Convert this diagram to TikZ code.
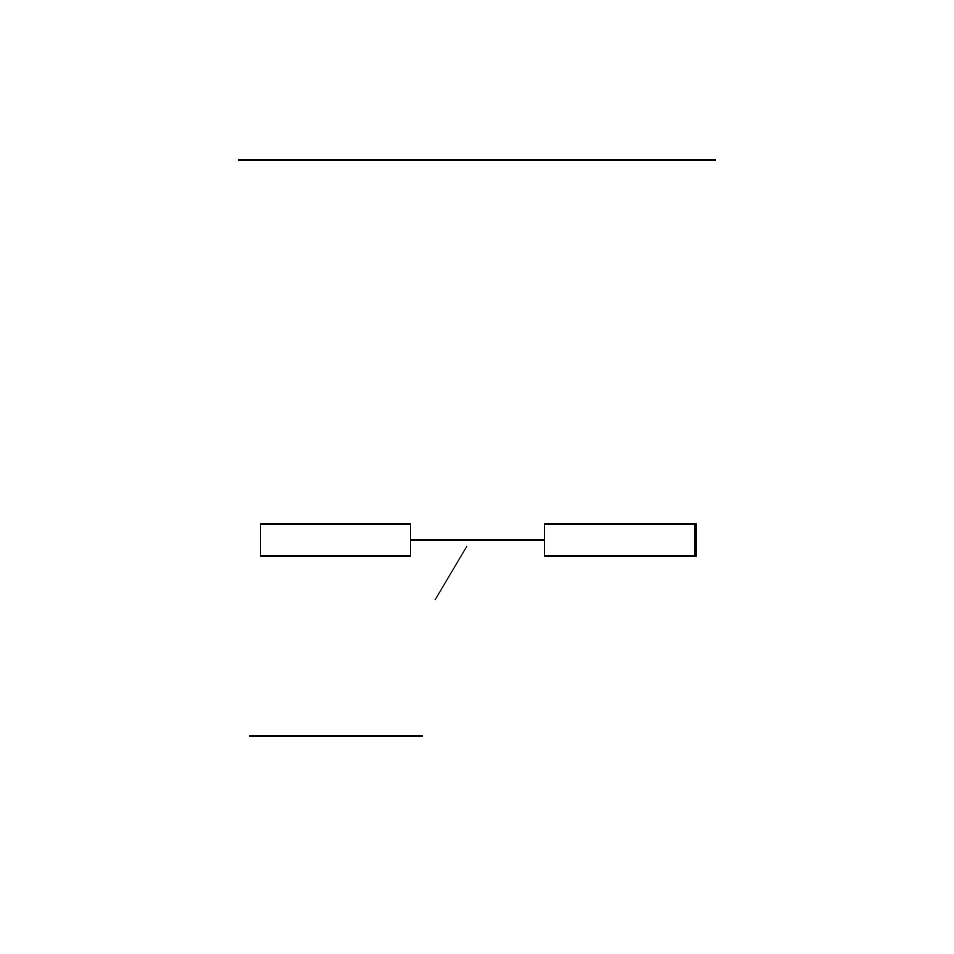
\documentclass[tikz,border=0pt]{standalone}
\usetikzlibrary{calc}

\begin{document}
\begin{tikzpicture}[x=0.01cm,y=-0.01cm,line width=0.4pt,
  box/.style={draw,rectangle,minimum width=1.5cm,minimum height=0.32cm,inner sep=0pt}]

  \useasboundingbox (0, 0) rectangle (954, 954);

  \coordinate (topl) at (238, 160);
  \coordinate (topr) at (716, 160);
  \draw (topl) -- (topr);

  \node [box] (left) at (335.25, 540) {};
  \node [box] (right) at (619.5, 540) {};
  \draw (left.east) -- (right.east -| right.west);
  \draw [line width=0.8pt] ($(right.north east)+(0.5,0)$) -- ($(right.south east)+(0.5,0)$);

  \coordinate (tip) at (467, 546);
  \coordinate (foot) at (435, 600);
  \draw [line width=0.3pt] (tip) -- (foot);

  \coordinate (botl) at (249, 736);
  \coordinate (botr) at (423, 736);
  \draw (botl) -- (botr);

\end{tikzpicture}
\end{document}
